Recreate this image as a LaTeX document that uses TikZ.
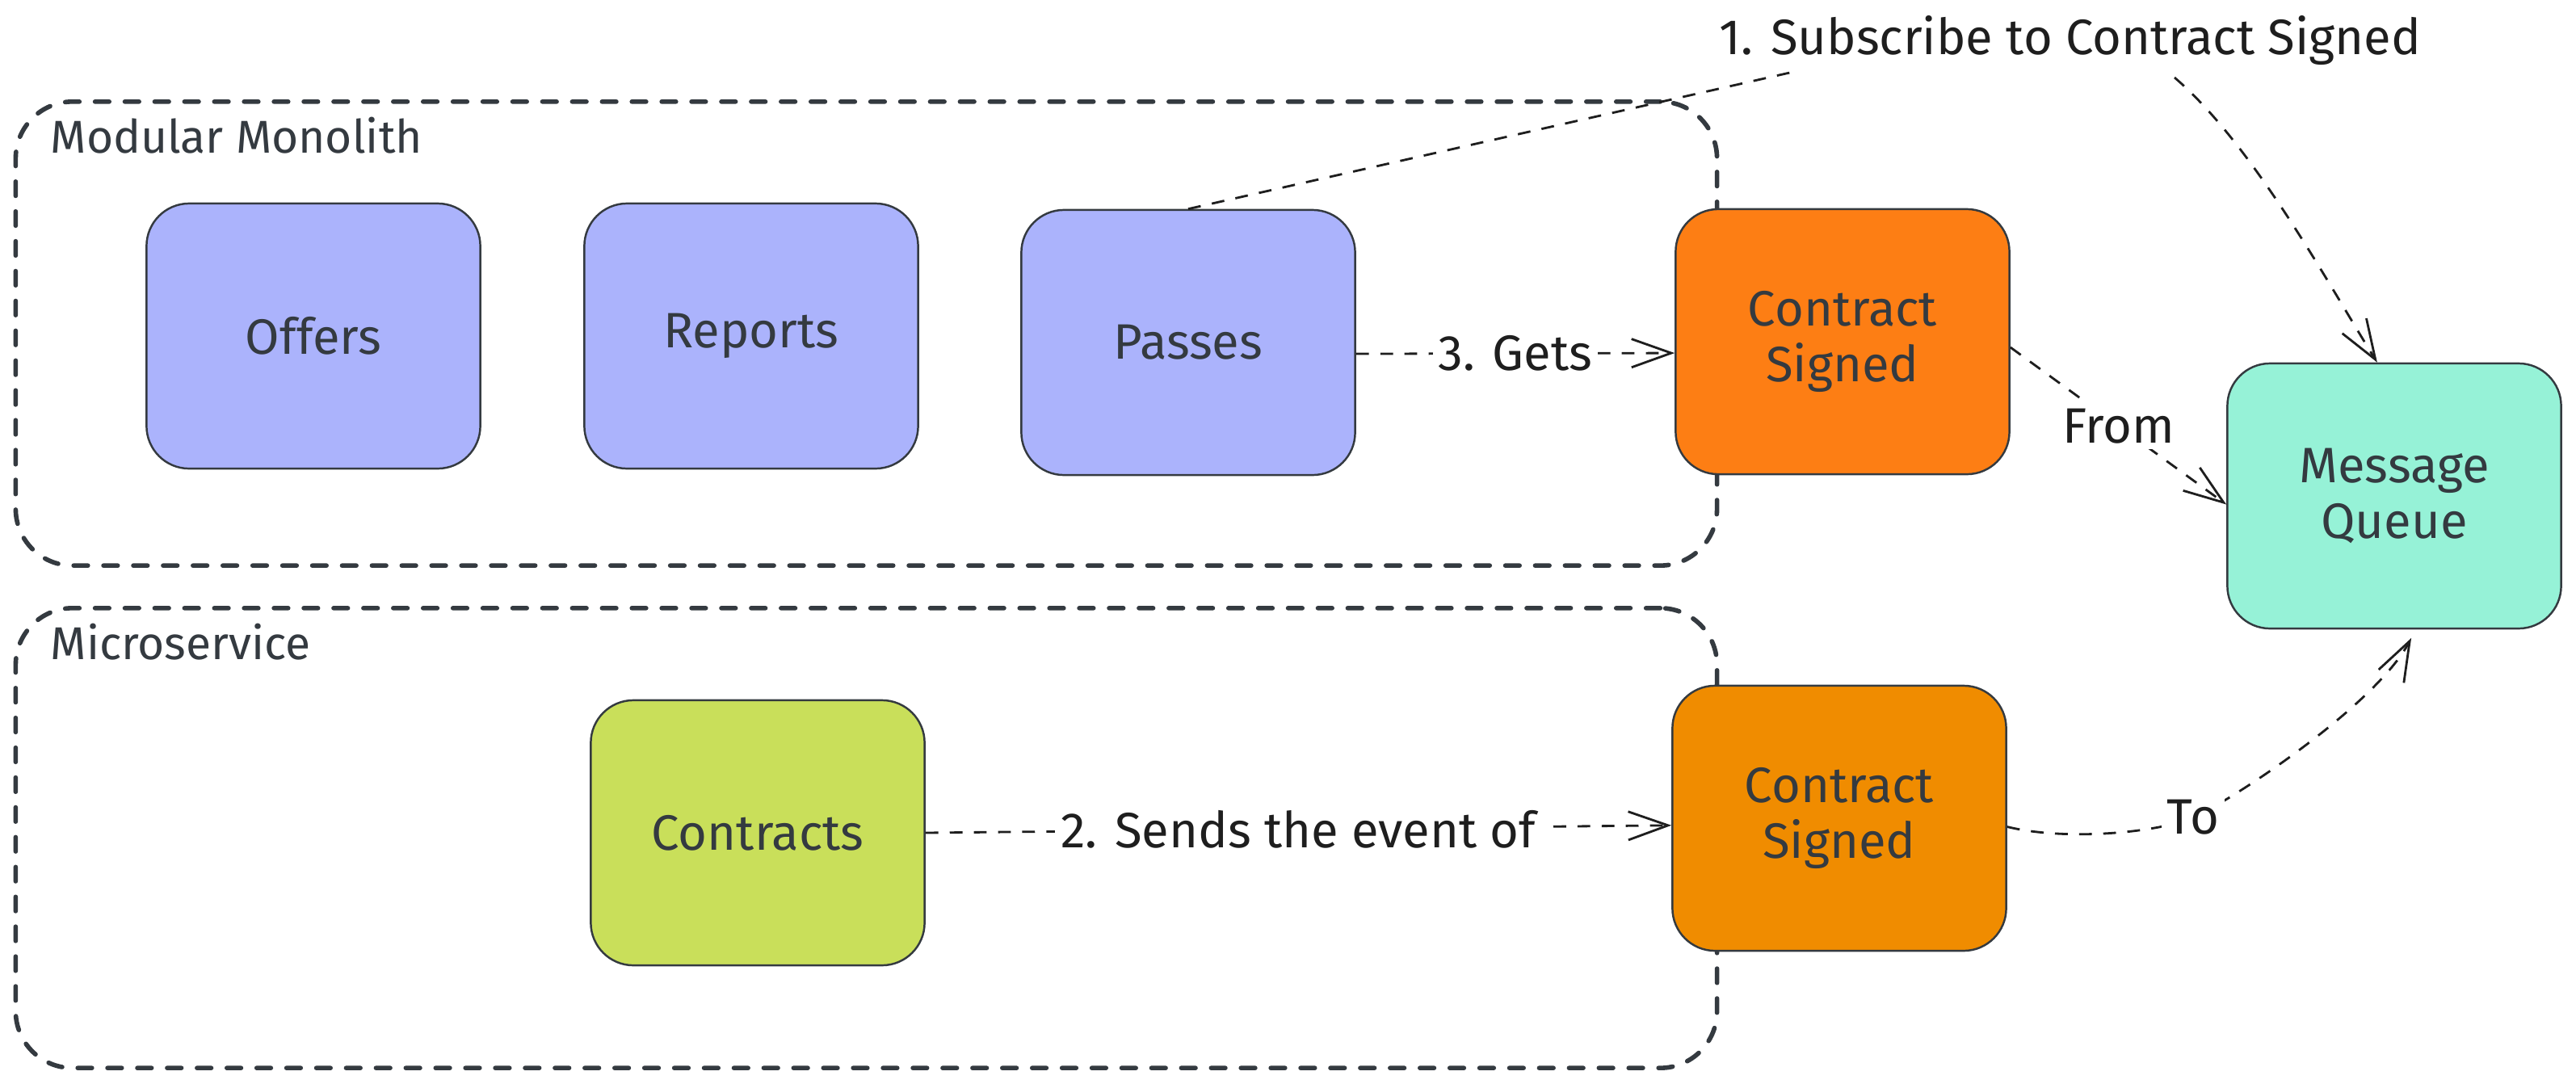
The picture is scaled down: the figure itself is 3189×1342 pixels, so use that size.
\documentclass[tikz,border=0pt]{standalone}
\usepackage{fontspec}
\setmainfont{Fira Sans}
\usetikzlibrary{arrows.meta}
\definecolor{lav}{HTML}{ABB3FC}
\definecolor{orgA}{HTML}{FD7E14}
\definecolor{orgB}{HTML}{F08C00}
\definecolor{limeC}{HTML}{C9DF5A}
\definecolor{tealC}{HTML}{96F2D7}
\definecolor{ink}{HTML}{343A40}
\definecolor{inkB}{HTML}{1E1E1E}
\begin{document}
\begin{tikzpicture}[x=0.01cm,y=-0.01cm,
  box/.style={draw=ink, line width=0.7pt, rounded corners=15pt, minimum width=4.13cm, minimum height=3.28cm, inner sep=0pt, align=center, text=ink, font=\fontsize{17.5}{19.5}\selectfont},
  group/.style={draw=ink, line width=1.6pt, dash pattern=on 5pt off 5.5pt, line cap=round, rounded corners=20pt, inner sep=0pt},
  connline/.style={draw=inkB, line width=0.8pt, dash pattern=on 4.5pt off 4pt},
  conn/.style={connline, -{Straight Barb[length=14pt,width=10pt]}},
  lbl/.style={fill=white, text=inkB, inner sep=2pt, font=\fontsize{17.5}{20}\selectfont},
  grouplbl/.style={anchor=west, text=ink, inner sep=0pt, font=\fontsize{16.2}{19}\selectfont}]
\useasboundingbox[fill=white] (0,0) rectangle (3189,1342);
% containers
\node[group, minimum width=21.05cm, minimum height=5.74cm] (mm) at (1072.5,413) {};
\node[group, minimum width=21.05cm, minimum height=5.69cm] (ms) at (1072.5,1037.5) {};
\node[grouplbl] (mmlbl) at (62,168) {Modular Monolith};
\node[grouplbl] (mslbl) at (62,795) {Microservice};
% boxes
\node[box, fill=lav] (offers) at (388,416) {Offers};
\node[box, fill=lav] (reports) at (930,416) {Reports};
\node[box, fill=lav] (passes) at (1471,424) {Passes};
\node[box, fill=orgA] (cs1) at (2281,423) {Contract\\Signed};
\node[box, fill=tealC] (mq) at (2964,614) {Message\\Queue};
\node[box, fill=limeC] (contracts) at (938,1031) {Contracts};
\node[box, fill=orgB] (cs2) at (2277,1013) {Contract\\Signed};
% connectors
\draw[conn] ([yshift=-4pt]passes.east) -- node[lbl] (gets) {3. Gets} ([yshift=-4pt]cs1.west);
\draw[conn] (contracts.east) -- node[lbl] (sends) {2. Sends the event of} ([yshift=-2.5pt]cs2.west);
\draw[conn] ([yshift=-2pt]cs1.east) -- node[lbl] (from) {From} ([yshift=-3pt]mq.west);
\coordinate (s1) at (2220,89);
\coordinate (s2) at (2692,96);
\draw[connline] (passes.north) -- (s1);
\draw[conn] (s2) .. controls (2790,180) and (2883,353) .. ([xshift=-6pt]mq.north);
\node[lbl, fill=none] (sub) at (2563,50) {1. Subscribe to Contract Signed};
\coordinate (tomid) at (2715,1012);
\draw[conn] ([yshift=-3pt]cs2.east) .. controls (2560,1042) and (2675,1030) .. (tomid) .. controls (2765,990) and (2942,872) .. ([xshift=6pt,yshift=-3pt]mq.south);
\node[lbl] (to) at (tomid) {To};
\end{tikzpicture}
\end{document}
